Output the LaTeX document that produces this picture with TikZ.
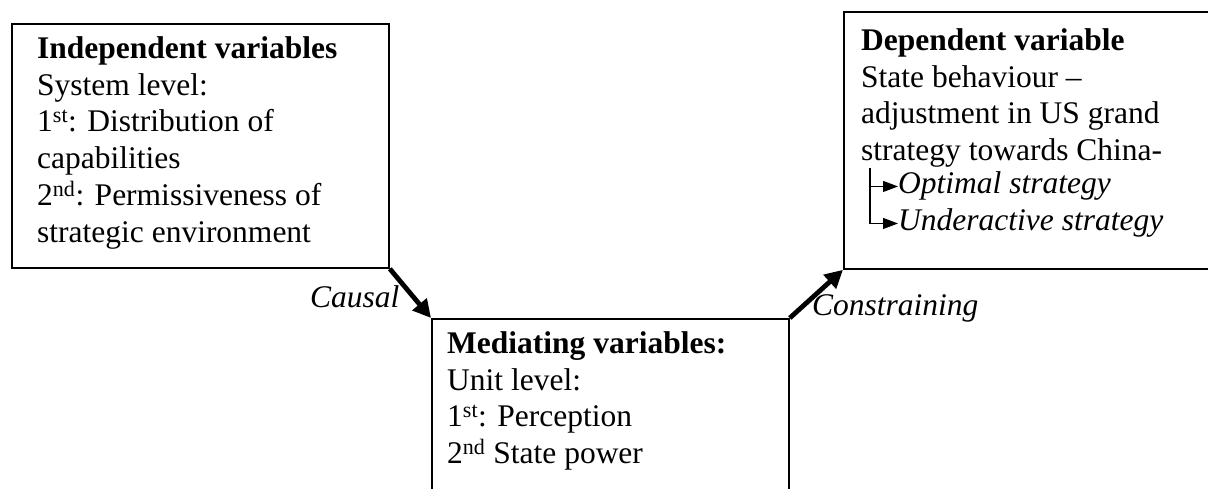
\documentclass[tikz,border=0pt]{standalone}
\usepackage{fontspec}
\setmainfont{Liberation Serif}
\usetikzlibrary{arrows.meta}
\begin{document}
\begin{tikzpicture}[x=1pt,y=-1pt,
  box/.style={draw, line width=1.8pt, rectangle, inner sep=0pt, anchor=north west},
  txt/.style={inner sep=0pt, align=left, anchor=north west,
    font=\fontsize{31.5}{36.7}\selectfont},
  lbl/.style={inner sep=0pt, anchor=base west,
    font=\fontsize{31.5}{36.7}\selectfont\itshape},
  flow/.style={line width=4.8pt, -{Triangle[length=18pt,width=18pt]}},
  branch/.style={line width=1.1pt, -{Triangle[length=15pt,width=11pt]}}]
\clip (0,0) rectangle (1208,489);
\fill[white] (0,0) rectangle (1208,489);

% the three boxes (right one runs past the right edge, middle one past the bottom)
\node[box, minimum width=377pt, minimum height=244pt] (indep) at (11,23) {};
\node[box, minimum width=400pt, minimum height=257pt] (dep) at (843,11) {};
\node[box, minimum width=357pt, minimum height=220pt] (med) at (431,318) {};

% box texts
\node[txt] (indeptxt) at (37,36.5) {\textbf{Independent variables}\\
  System level:\\
  1\textsuperscript{st}: Distribution of\\
  capabilities\\
  2\textsuperscript{nd}: Permissiveness of\\
  strategic environment};
\node[txt] (deptxt) at (861,28.5) {\textbf{Dependent variable}\\
  State behaviour --\\
  adjustment in US grand\\
  strategy towards China-};
\node[txt] (medtxt) at (447,331.5) {\textbf{Mediating variables:}\\
  Unit level:\\
  1\textsuperscript{st}: Perception\\
  2\textsuperscript{nd} State power};

% the two outcomes with their branching arrows
\node[lbl] (opt) at (898,194) {Optimal strategy};
\node[lbl] (under) at (898,231) {Underactive strategy};
\coordinate (fork) at (870,168);
\draw[branch] (fork) |- (opt.west);
\draw[branch] (fork) |- (under.west);

% links between the boxes
\draw[flow] (indep.south east) -- (med.north west);
\draw[flow] (med.north east) -- (dep.south west);
\node[lbl] (causal) at (310,307) {Causal};
\node[lbl] (constr) at (812,315) {Constraining};
\end{tikzpicture}
\end{document}
